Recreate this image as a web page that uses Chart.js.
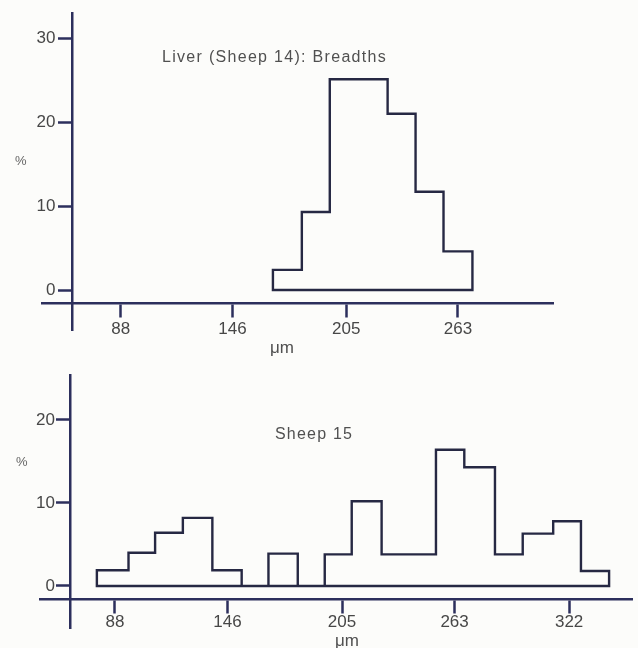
<!DOCTYPE html>
<html>
<head>
<meta charset="utf-8">
<script src="https://cdn.jsdelivr.net/npm/chart.js@4.4.1/dist/chart.umd.min.js"></script>
<style>
html, body { margin: 0; padding: 0; background: #fcfcfa; }
#wrap { position: relative; width: 638px; height: 648px; overflow: hidden; font-family: "Liberation Sans", Arial, sans-serif; color: #505050; }
canvas { position: absolute; left: 0; }
.t { position: absolute; white-space: nowrap; font-size: 16px; line-height: 16px; }
</style>
</head>
<body>
<div id="wrap">
  <canvas id="c1" width="638" height="345" style="top:0px"></canvas>
  <canvas id="c2" width="638" height="303" style="top:345px"></canvas>
  <div class="t" id="title1" style="left:162px; top:49px; letter-spacing:1.3px;"></div>
  <div class="t" id="title2" style="left:275px; top:426px; letter-spacing:1.2px;"></div>
  <div class="t" style="left:15px; top:154px; font-size:13px; line-height:13px; color:#666;">%</div>
  <div class="t" style="left:16px; top:455px; font-size:13px; line-height:13px; color:#666;">%</div>
  <div class="t" style="left:270px; top:339px; font-size:17px; line-height:17px;">μm</div>
  <div class="t" style="left:335px; top:632px; font-size:17px; line-height:17px;">μm</div>
</div>
<script>
// ---- data ----
const topTitle = 'Liver (Sheep 14): Breadths';
const bottomTitle = 'Sheep 15';

// bin edges (µm) and percentage per bin
const topBinEdges = [167, 182, 196.5, 211.5, 226.5, 241, 255.5, 270.5];
const topPercent  = [2.4, 9.3, 25.1, 25.1, 21.0, 11.7, 4.6];

const bottomBinEdges = [78.7, 95, 108.7, 123, 138.2, 153.3, 167.1, 182.2, 196.1, 210, 225.4, 239.4, 253.4, 268, 283.8, 298.1, 313.8, 328.1, 342.6];
const bottomPercent  = [1.9, 4.0, 6.4, 8.2, 1.9, 0, 3.9, 0, 3.8, 10.2, 3.8, 3.8, 16.4, 14.3, 3.8, 6.3, 7.8, 1.8];

const topXTicks = [88, 146, 205, 263];
const bottomXTicks = [88, 146, 205, 263, 322];
const topYTicks = [0, 10, 20, 30];
const bottomYTicks = [0, 10, 20];

document.getElementById('title1').textContent = topTitle;
document.getElementById('title2').textContent = bottomTitle;

const AXIS = '#2c2f5c';
const LINE = '#262843';
const TEXT = '#474747';
const FONT = { family: '"Liberation Sans", Arial, sans-serif', size: 17 };

function outline(edges, vals) {
  const pts = [{ x: edges[0], y: 0 }];
  for (let i = 0; i < vals.length; i++) {
    pts.push({ x: edges[i], y: vals[i] });
    pts.push({ x: edges[i + 1], y: vals[i] });
  }
  pts.push({ x: edges[edges.length - 1], y: 0 });
  pts.push({ x: edges[0], y: 0 });
  return pts;
}

function makeChart(id, cfg) {
  const setTicks = (arr) => (s) => { s.ticks = arr.map(v => ({ value: v })); };
  return new Chart(document.getElementById(id), {
    type: 'scatter',
    data: {
      datasets: [{
        data: outline(cfg.edges, cfg.values),
        showLine: true,
        pointRadius: 0,
        borderColor: LINE,
        borderWidth: 2.4,
        borderJoinStyle: 'miter',
        borderCapStyle: 'square',
        fill: false,
        tension: 0,
        xAxisID: 'x',
        yAxisID: 'y'
      }]
    },
    options: {
      responsive: false,
      animation: false,
      events: [],
      layout: { padding: cfg.padding },
      plugins: { legend: { display: false }, tooltip: { enabled: false } },
      scales: {
        x: {
          type: 'linear', axis: 'x',
          min: cfg.xMin, max: cfg.xMax,
          position: { y: cfg.xAxisAt },
          afterBuildTicks: setTicks(cfg.xTicks),
          border: { display: true, color: AXIS, width: 2.5 },
          grid: { display: true, drawOnChartArea: false, drawTicks: true, tickLength: 13, tickWidth: 2.5, tickColor: AXIS },
          ticks: { color: TEXT, font: FONT, padding: cfg.xLabelPad, maxRotation: 0, autoSkip: false }
        },
        y: {
          type: 'linear', axis: 'y',
          min: cfg.yMin, max: cfg.yMax,
          position: { x: cfg.yAxisAt },
          afterBuildTicks: setTicks(cfg.yTicks),
          border: { display: true, color: AXIS, width: 2.5 },
          grid: { display: true, drawOnChartArea: false, drawTicks: true, tickLength: 13, tickWidth: 2.5, tickColor: AXIS },
          ticks: { display: false }
        },
        yl: {
          type: 'linear', axis: 'y',
          min: cfg.yMin, max: cfg.yMax,
          position: { x: cfg.yLabelAt },
          afterBuildTicks: setTicks(cfg.yTicks),
          border: { display: false },
          grid: { display: false, drawTicks: false },
          ticks: { color: TEXT, font: FONT, padding: 0 }
        }
      }
    }
  });
}

makeChart('c1', {
  edges: topBinEdges, values: topPercent,
  xTicks: topXTicks, yTicks: topYTicks,
  xMin: 47.2, xMax: 312.3, yMin: -4.76, yMax: 33.0,
  xAxisAt: -1.55, yAxisAt: 62.7, yLabelAt: 54.2,
  xLabelPad: 3,
  padding: { left: 42, right: 85, top: 13, bottom: 15 }
});

makeChart('c2', {
  edges: bottomBinEdges, values: bottomPercent,
  xTicks: bottomXTicks, yTicks: bottomYTicks,
  xMin: 49.4, xMax: 354.4, yMin: -5.06, yMax: 25.4,
  xAxisAt: -1.57, yAxisAt: 64.9, yLabelAt: 57.1,
  xLabelPad: 0,
  padding: { left: 40, right: 6, top: 30, bottom: 20 }
});
</script>
</body>
</html>
